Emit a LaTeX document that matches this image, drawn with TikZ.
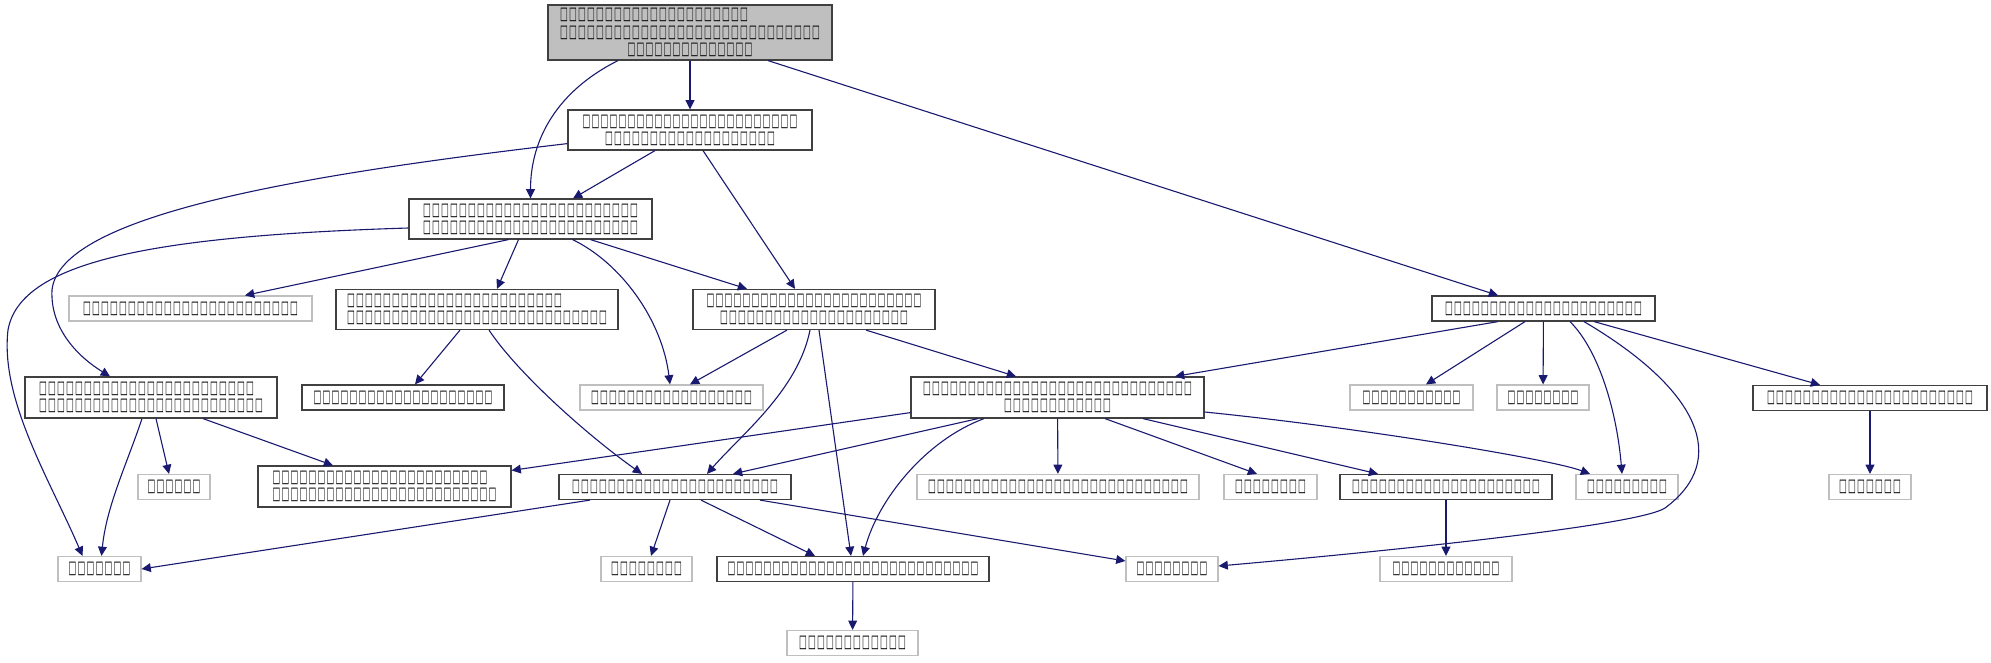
\documentclass[tikz,border=0pt]{standalone}
\usepackage{fontspec}
\usetikzlibrary{arrows.meta,calc}
\newfontfamily\dv{DejaVu Sans}
\newcommand\tf{\makebox[4.5pt]{\resizebox{3.9pt}{5.7pt}{\dv □}}}
\ExplSyntaxOn
\NewDocumentCommand\T{m}{\prg_replicate:nn{#1}{\tf}}
\ExplSyntaxOff
\newcommand\TL[2]{\makebox[\dimexpr4.5pt*#2\relax][l]{\T{#1}}}
\definecolor{edge}{HTML}{191970}
\definecolor{gborder}{HTML}{BFBFBF}
\tikzset{
  box/.style 2 args={rectangle, draw=black!75, line width=0.6pt, inner sep=0pt,
    minimum width=#1*0.5pt, minimum height=#2*0.5pt, align=center, text=black,
    font=\fontsize{5.7pt}{7.4pt}\selectfont},
  gbox/.style 2 args={box={#1}{#2}, draw=gborder},
  e/.style={draw=edge, line width=0.55pt, -{Triangle[length=4.6pt,width=4.4pt]}}
}
\begin{document}
\begin{tikzpicture}[x=0.5pt,y=-0.5pt]
\useasboundingbox (0,0) rectangle (1991,663);
% nodes
\node[box={284}{55}, fill=gborder] (top) at (690,32.5) {\TL{21}{29}\\[1.5pt]\T{29}\\[1.5pt]\T{14}};
\node[box={244}{40}] (n2) at (690,130) {\T{24}\\[1.1pt]\T{19}};
\node[box={243}{40}] (n3) at (530.5,219) {\T{24}\\[1.1pt]\T{24}};
\node[box={242}{40}] (n4) at (814,309.5) {\T{24}\\[1.1pt]\T{21}};
\node[box={223}{25}] (n5) at (1543.5,308.5) {\T{22}};
\node[box={282}{40}] (n6) at (477,309.5) {\TL{24}{29}\\[1.1pt]\T{29}};
\node[gbox={243}{25}] (n7) at (190.5,308.5) {\T{24}};
\node[box={252}{41}] (n8) at (151,397.5) {\TL{24}{25}\\[1.1pt]\T{25}};
\node[box={202}{25}] (n9) at (403,397.5) {\T{20}};
\node[gbox={183}{25}] (n10) at (671.5,397.5) {\T{18}};
\node[box={293}{41}] (n11) at (1057.5,397.5) {\T{30}\\[1.1pt]\T{12}};
\node[gbox={123}{25}] (n12) at (1411.5,397.5) {\T{11}};
\node[gbox={92}{25}] (n13) at (1543,397.5) {\T{8}};
\node[box={234}{25}] (n14) at (1870,398) {\T{23}};
\node[gbox={72}{25}] (n15) at (174,487) {\T{6}};
\node[box={253}{41}] (n16) at (384.5,486.5) {\TL{24}{25}\\[1.1pt]\T{25}};
\node[box={232}{25}] (n17) at (675,487) {\T{23}};
\node[gbox={282}{25}] (n18) at (1058,487) {\T{29}};
\node[gbox={93}{25}] (n19) at (1270.5,487) {\T{8}};
\node[box={212}{25}] (n20) at (1446,487) {\T{21}};
\node[gbox={102}{25}] (n21) at (1627,487) {\T{9}};
\node[gbox={82}{25}] (n22) at (1870,487) {\T{7}};
\node[gbox={83}{25}] (n23) at (99.5,569) {\T{7}};
\node[gbox={91}{25}] (n24) at (646.5,569) {\T{8}};
\node[box={272}{25}] (n25) at (853,569) {\T{28}};
\node[gbox={92}{25}] (n26) at (1172,569) {\T{8}};
\node[gbox={132}{25}] (n27) at (1446,569) {\T{12}};
\node[gbox={131}{25}] (n28) at (852.5,643) {\T{12}};
% edges
\draw[e] (top) -- (n2);
\draw[e] ($(top.south)+(78,0)$) -- ($(n5.north)+(-45.5,0)$);
\draw[e] ($(top.south)+(-72,0)$) .. controls +(-60,30) and +(0,-60) .. (n3.north);
\draw[e] ($(n2.south)+(-35,0)$) -- ($(n3.north)+(42.5,0)$);
\draw[e] ($(n2.south)+(13,0)$) -- ($(n4.north)+(-19,0)$);
\draw[e] ($(n2.south west)+(0,-7)$) .. controls (300,175) and (60,215) .. (52,290)
   .. controls (50,330) and (80,358) .. ($(n8.north)+(-41,0)$);
\draw[e] ($(n3.west)+(0,9)$) .. controls (150,236) and (20,262) .. (8,330)
   .. controls (0,400) and (50,480) .. ($(n23.north)+(-17,0)$);
\draw[e] ($(n3.south)+(-22,0)$) -- ($(n7.north)+(54.5,0)$);
\draw[e] ($(n3.south)+(-12,0)$) -- ($(n6.north)+(20,0)$);
\draw[e] ($(n3.south)+(42,0)$) .. controls +(48,23) and +(-8,-65) .. ($(n10.north)+(-1.5,0)$);
\draw[e] ($(n3.south)+(60,0)$) -- ($(n4.north)+(-67,0)$);
\draw[e] ($(n4.south)+(-27,0)$) -- ($(n10.north)+(18.5,0)$);
\draw[e] ($(n4.south)+(-4,0)$) .. controls +(-12,60) and +(35,-40) .. ($(n17.north)+(32,0)$);
\draw[e] ($(n4.south)+(5,0)$) -- ($(n25.north)+(-2,0)$);
\draw[e] ($(n4.south)+(52,0)$) -- ($(n11.north)+(-41.5,0)$);
\draw[e] ($(n5.south)+(-45.5,0)$) -- ($(n11.north)+(117.5,0)$);
\draw[e] ($(n5.south)+(-18.5,0)$) -- ($(n12.north)+(14.5,0)$);
\draw[e] (n5) -- (n13);
\draw[e] ($(n5.south)+(26.5,0)$) .. controls +(30,30) and +(-5,-60) .. ($(n21.north)+(-5,0)$);
\draw[e] ($(n5.south)+(40.5,0)$) .. controls (1700,390) and (1730,460) .. (1665,508)
   .. controls (1640,525) and (1400,550) .. ($(n26.east)+(0,-3)$);
\draw[e] ($(n5.south)+(50.5,0)$) -- ($(n14.north)+(-50,0)$);
\draw[e] ($(n6.south)+(-17,0)$) -- ($(n9.north)+(12,0)$);
\draw[e] ($(n6.south)+(12,0)$) .. controls +(30,45) and +(-50,-35) .. ($(n17.north)+(-33,0)$);
\draw[e] ($(n8.south)+(-9,0)$) .. controls +(-15,45) and +(5,-50) .. ($(n23.north)+(2,0)$);
\draw[e] ($(n8.south)+(5,0)$) -- ($(n15.north)+(-5,0)$);
\draw[e] ($(n8.south)+(52,0)$) -- ($(n16.north)+(-51.5,0)$);
\draw[e] ($(n11.south west)+(0,-6)$) -- ($(n16.north east)+(0,5)$);
\draw[e] ($(n11.south)+(-79.5,0)$) -- ($(n17.north)+(58,0)$);
\draw[e] (n11) -- (n18);
\draw[e] ($(n11.south)+(47.5,0)$) -- ($(n19.north)+(-13.5,0)$);
\draw[e] ($(n11.south)+(85.5,0)$) -- ($(n20.north)+(-68,0)$);
\draw[e] ($(n11.east)+(0,14.5)$) .. controls +(150,15) and +(-40,-15) .. ($(n21.north)+(-37,0)$);
\draw[e] ($(n11.south)+(-73.5,0)$) .. controls +(-59,22) and +(15,-56) .. ($(n25.north)+(10,0)$);
\draw[e] (n14) -- (n22);
\draw[e] ($(n17.south)+(-85,0)$) -- (n23.east);
\draw[e] ($(n17.south)+(-5,0)$) -- ($(n24.north)+(4.5,0)$);
\draw[e] ($(n17.south)+(26,0)$) -- ($(n25.north)+(-38,0)$);
\draw[e] ($(n17.south)+(85,0)$) -- ($(n26.west)+(0,-8)$);
\draw[e] (n20) -- (n27);
\draw[e] (n25) -- (n28);
\end{tikzpicture}
\end{document}
